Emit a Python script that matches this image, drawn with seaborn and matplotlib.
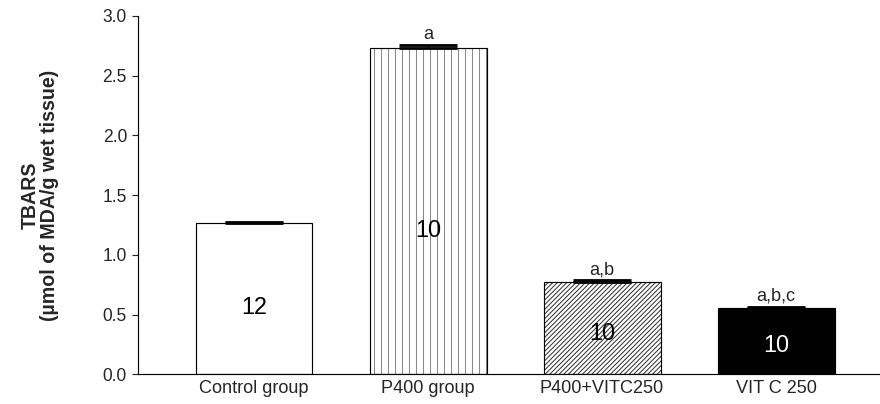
import numpy as np
import pandas as pd
import seaborn as sns
import matplotlib.pyplot as plt

# Data
groups = ["Control group", "P400 group", "P400+VITC250", "VIT C 250"]
tbars = [1.27, 2.73, 0.775, 0.553]
sem = [0.006, 0.025, 0.015, 0.012]
n_rats = ["12", "10", "10", "10"]
signif = ["", "a", "a,b", "a,b,c"]

fill_colors = ["white", "white", "white", "black"]
hatches = ["", "||", "//////", ""]
hatch_colors = ["white", "#8a8a8a", "#3a3a3a", "black"]
count_colors = ["black", "black", "black", "white"]

df = pd.DataFrame({"group": groups, "tbars": tbars})

sns.set_style("ticks")
plt.rcParams["font.family"] = ["Liberation Sans", "DejaVu Sans"]
plt.rcParams["hatch.linewidth"] = 0.9

DPI = 84
fig = plt.figure(figsize=(881 / DPI, 404 / DPI), dpi=DPI)
ax = fig.add_axes([0.1566, 0.0735, 0.8434, 0.887])

# first pass: fills and hatch lines
sns.barplot(data=df, x="group", y="tbars", hue="group", palette=fill_colors,
            legend=False, width=0.672, linewidth=0, saturation=1, ax=ax)
for p, h, hc in zip(ax.patches, hatches, hatch_colors):
    p.set_hatch(h)
    p.set_edgecolor(hc)
    p.set_linewidth(0)

# second pass: black outlines
n_before = len(ax.patches)
sns.barplot(data=df, x="group", y="tbars", color="white", width=0.672,
            edgecolor="black", linewidth=1.0, saturation=1, ax=ax)
for p in ax.patches[n_before:]:
    p.set_facecolor("none")

pos = np.arange(len(groups))
ax.errorbar(pos, tbars, yerr=[np.zeros(len(sem)), sem], fmt="none",
            ecolor="black", elinewidth=1.0, capsize=25, capthick=2.4)

for i, (v, e) in enumerate(zip(tbars, sem)):
    ax.text(i, v * 0.44, n_rats[i], ha="center", va="center",
            fontsize=20, color=count_colors[i])
    if signif[i]:
        ax.annotate(signif[i], (i, v + e), xytext=(0, 5),
                    textcoords="offset points", ha="center", va="baseline",
                    fontsize=15.5)

ax.set_xlim(-0.667, 3.603)
ax.set_ylim(0, 3.0)
ax.set_yticks([0, 0.5, 1.0, 1.5, 2.0, 2.5, 3.0])
ax.set_yticklabels(["0.0", "0.5", "1.0", "1.5", "2.0", "2.5", "3.0"])
ax.set_xlabel("")
ax.set_ylabel("TBARS\n(\u00b5mol of MDA/g wet tissue)", fontsize=16.8,
              fontweight="bold", linespacing=1.0)
ax.yaxis.set_label_coords(-0.106, 0.5)

ax.tick_params(axis="y", length=5.5, width=1.0, pad=4, labelsize=15)
ax.tick_params(axis="x", length=0, pad=5, labelsize=15.5)
sns.despine(ax=ax)
for s in ["left", "bottom"]:
    ax.spines[s].set_linewidth(1.0)
    ax.spines[s].set_color("black")

fig.savefig("out.png", dpi=DPI)
